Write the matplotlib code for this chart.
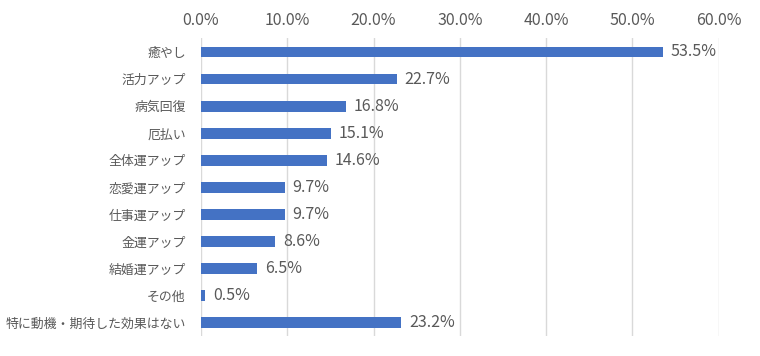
import matplotlib
matplotlib.use("Agg")
import matplotlib.pyplot as plt
from matplotlib.ticker import FuncFormatter

plt.rcParams['font.family'] = ['Noto Sans CJK JP', 'DejaVu Sans']

categories = ["癒やし", "活力アップ", "病気回復", "厄払い", "全体運アップ", "恋愛運アップ",
              "仕事運アップ", "金運アップ", "結婚運アップ", "その他", "特に動機・期待した効果はない"]
values = [53.5, 22.7, 16.8, 15.1, 14.6, 9.7, 9.7, 8.6, 6.5, 0.5, 23.2]
ticks = [0, 10, 20, 30, 40, 50, 60]

fig = plt.figure(figsize=(7.6, 3.56), dpi=100)
ax = fig.add_axes([0.2645, 0.055, 0.681, 0.837])

y = list(range(len(categories)))
ax.barh(y, values, height=0.4, color='#4472C4', zorder=3)
for yi, v in zip(y, values):
    ax.text(v + 0.9, yi, f"{v:.1f}%", va='center', ha='left', fontsize=11.5, color='#595959')

ax.set_ylim(len(categories) - 0.5, -0.5)
ax.set_xlim(0, 60)
ax.set_xticks(ticks)
ax.xaxis.set_major_formatter(FuncFormatter(lambda v, p: f"{v:.1f}%"))
ax.xaxis.tick_top()
ax.set_yticks(y)
ax.set_yticklabels(categories)
ax.tick_params(axis='both', length=0, colors='#595959')
ax.tick_params(axis='x', pad=7, labelsize=11.5)
ax.tick_params(axis='y', pad=11, labelsize=9.3)
ax.grid(axis='x', color='#D9D9D9', linewidth=1, zorder=0)
for s in ax.spines.values():
    s.set_visible(False)

fig.savefig("out.png", dpi=100)
